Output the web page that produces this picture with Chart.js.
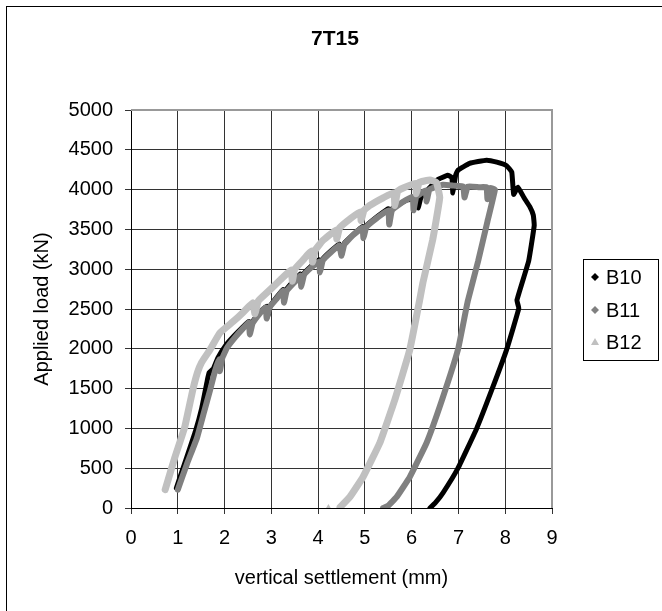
<!DOCTYPE html>
<html>
<head>
<meta charset="utf-8">
<script src="https://cdn.jsdelivr.net/npm/chart.js@4"></script>
<style>
	body { margin: 0; background: #fff; }
	canvas { display: block; }
</style>
</head>
<body>
<canvas id="load-chart" width="662" height="611"></canvas>
<script>
// load - settlement curves, pile 7T15
const chartTitle = "7T15";
const seriesNames = ["B10", "B11", "B12"];
const xTicks = [0, 1, 2, 3, 4, 5, 6, 7, 8, 9];
const yTicks = [0, 500, 1000, 1500, 2000, 2500, 3000, 3500, 4000, 4500, 5000];

const b10X = [0.97, 1.17, 1.37, 1.51, 1.63, 1.67, 1.76, 1.86, 2.02, 2.2, 2.4, 2.52, 2.54, 2.6, 2.76, 2.9, 2.92, 2.98, 3.25, 3.27, 3.33, 3.62, 3.64, 3.7, 4.02, 4.04, 4.1, 4.45, 4.5, 4.56, 4.95, 4.97, 5.03, 5.5, 5.52, 5.58, 5.9, 6.13, 6.14, 6.2, 6.54, 6.77, 6.86, 6.88, 6.94, 6.99, 7.24, 7.6, 7.82, 8.03, 8.14, 8.18, 8.27, 8.4, 8.53, 8.6, 8.62, 8.5, 8.25, 8.29, 8.03, 7.71, 7.39, 6.99, 6.67, 6.5, 6.39];
const b10Y = [250, 600, 950, 1250, 1600, 1700, 1750, 1890, 2040, 2160, 2280, 2345, 2210, 2340, 2460, 2535, 2400, 2540, 2745, 2600, 2750, 2940, 2800, 2950, 3120, 2980, 3130, 3315, 3180, 3325, 3535, 3400, 3545, 3760, 3580, 3760, 3870, 3880, 3770, 3900, 4120, 4180, 4150, 3960, 4180, 4245, 4330, 4370, 4345, 4300, 4220, 3940, 4030, 3900, 3780, 3680, 3550, 3100, 2610, 2510, 1990, 1480, 1000, 500, 190, 60, 0];

const b11X = [1.0, 1.2, 1.41, 1.55, 1.69, 1.8, 1.88, 1.9, 1.95, 2.05, 2.22, 2.4, 2.52, 2.54, 2.6, 2.76, 2.88, 2.9, 2.96, 3.1, 3.25, 3.27, 3.33, 3.5, 3.62, 3.64, 3.7, 3.85, 4.02, 4.04, 4.1, 4.25, 4.45, 4.5, 4.56, 4.75, 4.95, 4.97, 5.03, 5.25, 5.5, 5.52, 5.58, 5.8, 6.02, 6.04, 6.1, 6.3, 6.32, 6.38, 6.67, 6.9, 7.1, 7.13, 7.2, 7.45, 7.6, 7.62, 7.68, 7.78, 7.62, 7.42, 7.2, 6.99, 6.65, 6.32, 5.96, 5.68, 5.5, 5.39];
const b11Y = [230, 560, 880, 1180, 1480, 1730, 1870, 1720, 1880, 2010, 2140, 2260, 2330, 2180, 2320, 2450, 2520, 2380, 2520, 2620, 2730, 2580, 2730, 2840, 2920, 2780, 2930, 3020, 3100, 2960, 3110, 3200, 3300, 3170, 3310, 3430, 3520, 3390, 3530, 3640, 3740, 3560, 3740, 3840, 3910, 3740, 3910, 3990, 3850, 4000, 4060, 4050, 4040, 3900, 4040, 4030, 4030, 3880, 4020, 4000, 3600, 3100, 2600, 1990, 1360, 820, 390, 140, 30, 0];

const b12X = [0.73, 0.94, 1.15, 1.32, 1.42, 1.51, 1.69, 1.9, 2.18, 2.4, 2.6, 2.65, 2.72, 2.97, 3.2, 3.42, 3.45, 3.5, 3.7, 3.86, 3.88, 3.94, 4.1, 4.38, 4.4, 4.46, 4.7, 4.9, 4.92, 4.98, 5.1, 5.4, 5.62, 5.64, 5.7, 5.82, 6.08, 6.1, 6.16, 6.39, 6.53, 6.6, 6.45, 6.24, 6.17, 5.96, 5.64, 5.32, 4.96, 4.68, 4.47, null, 4.22];
const b12Y = [230, 640, 1020, 1480, 1700, 1830, 1990, 2200, 2340, 2460, 2580, 2440, 2600, 2740, 2870, 2990, 2850, 3000, 3130, 3230, 3090, 3240, 3360, 3490, 3380, 3520, 3640, 3720, 3610, 3740, 3800, 3900, 3960, 3800, 3980, 4020, 4080, 3950, 4090, 4120, 4090, 3900, 3370, 2830, 2610, 1990, 1360, 820, 390, 140, 10, null, 0];

const lineColors = ["#000000", "#808080", "#c0c0c0"];
const lineWidths = [5, 6, 7];
const markerStyles = ["rectRot", "rectRot", "triangle"];

const fontFamily = "'Liberation Sans', Arial, sans-serif";

function toPoints(xs, ys) {
	return xs.map((x, i) => ({ x: x, y: ys[i] }));
}

const seriesData = [toPoints(b10X, b10Y), toPoints(b11X, b11Y), toPoints(b12X, b12Y)];

// frame, plot border, title and legend box (Excel look)
const excelLook = {
	id: "excelLook",
	beforeDraw(chart) {
		const ctx = chart.ctx;
		ctx.save();
		ctx.fillStyle = "#fff";
		ctx.fillRect(0, 0, chart.width, chart.height);
		ctx.strokeStyle = "#000";
		ctx.lineWidth = 1;
		ctx.strokeRect(6.5, 6.5, 700, 700);
		ctx.restore();
	},
	beforeDatasetsDraw(chart) {
		const ctx = chart.ctx;
		const a = chart.chartArea;
		ctx.save();
		ctx.strokeStyle = "#999";
		ctx.lineWidth = 2;
		ctx.beginPath();
		ctx.moveTo(a.left, a.top);
		ctx.lineTo(a.right, a.top);
		ctx.lineTo(a.right, a.bottom);
		ctx.stroke();
		ctx.restore();
	},
	afterDraw(chart) {
		const ctx = chart.ctx;
		ctx.save();
		ctx.fillStyle = "#000";
		ctx.textAlign = "center";
		ctx.textBaseline = "middle";
		ctx.font = "bold 21px " + fontFamily;
		ctx.fillText(chartTitle, 335, 39);

		// legend
		ctx.strokeStyle = "#000";
		ctx.lineWidth = 1;
		ctx.strokeRect(583.5, 259.5, 75, 101);
		const rows = [277, 310, 342];
		ctx.font = "20px " + fontFamily;
		ctx.textAlign = "left";
		chart.data.datasets.forEach((ds, i) => {
			const y = rows[i];
			ctx.fillStyle = ds.borderColor;
			ctx.beginPath();
			if (markerStyles[i] === "triangle") {
				ctx.moveTo(595, y - 4);
				ctx.lineTo(599, y + 3);
				ctx.lineTo(591, y + 3);
			} else {
				ctx.moveTo(595, y - 4);
				ctx.lineTo(599, y);
				ctx.lineTo(595, y + 4);
				ctx.lineTo(591, y);
			}
			ctx.closePath();
			ctx.fill();
			ctx.fillStyle = "#000";
			ctx.fillText(ds.label, 606, y + 1);
		});
		ctx.restore();
	},
};

// B12 on top, B10 underneath (lower order is drawn last)
const datasets = seriesNames.map((name, i) => ({
	label: name,
	data: seriesData[i],
	order: 2 - i,
	showLine: true,
	spanGaps: false,
	borderColor: lineColors[i],
	backgroundColor: lineColors[i],
	borderWidth: lineWidths[i],
	borderJoinStyle: "round",
	borderCapStyle: "round",
	tension: 0.1,
	pointStyle: markerStyles[i],
	pointRadius: (c) => (i === 2 && c.dataIndex === seriesData[i].length - 1 ? 4 : 0),
	pointBorderWidth: 0,
}));

const loadCanvas = document.getElementById("load-chart");

const loadChart = new Chart(loadCanvas, {
	type: "scatter",
	data: { datasets: datasets },
	plugins: [excelLook],
	options: {
		responsive: false,
		animation: false,
		layout: {
			padding: { top: 110, right: 110, bottom: 0, left: 0 },
		},
		plugins: {
			legend: { display: false },
			tooltip: { enabled: false },
			title: { display: false },
		},
		scales: {
			x: {
				type: "linear",
				min: 0,
				max: 9,
				afterBuildTicks: (scale) => {
					scale.ticks = xTicks.map((v) => ({ value: v }));
				},
				afterFit: (scale) => {
					scale.height = 103;
				},
				ticks: {
					color: "#000",
					padding: 12,
					font: { family: fontFamily, size: 20 },
					callback: (v) => String(v),
				},
				grid: {
					color: "#333",
					lineWidth: 1,
					tickLength: 6,
				},
				border: { color: "#000", width: 1 },
				title: {
					display: true,
					text: "vertical settlement (mm)",
					color: "#000",
					font: { family: fontFamily, size: 20 },
					padding: { top: 0, bottom: 21 },
				},
			},
			y: {
				type: "linear",
				min: 0,
				max: 5000,
				afterBuildTicks: (scale) => {
					scale.ticks = yTicks.map((v) => ({ value: v }));
				},
				afterFit: (scale) => {
					scale.width = 131;
				},
				ticks: {
					color: "#000",
					padding: 12,
					font: { family: fontFamily, size: 20 },
					callback: (v) => String(v),
				},
				grid: {
					color: "#333",
					lineWidth: 1,
					tickLength: 6,
				},
				border: { color: "#000", width: 1 },
				title: {
					display: true,
					text: "Applied load (kN)",
					color: "#000",
					font: { family: fontFamily, size: 20 },
					padding: { top: 30, bottom: 0 },
				},
			},
		},
	},
});
</script>
</body>
</html>
